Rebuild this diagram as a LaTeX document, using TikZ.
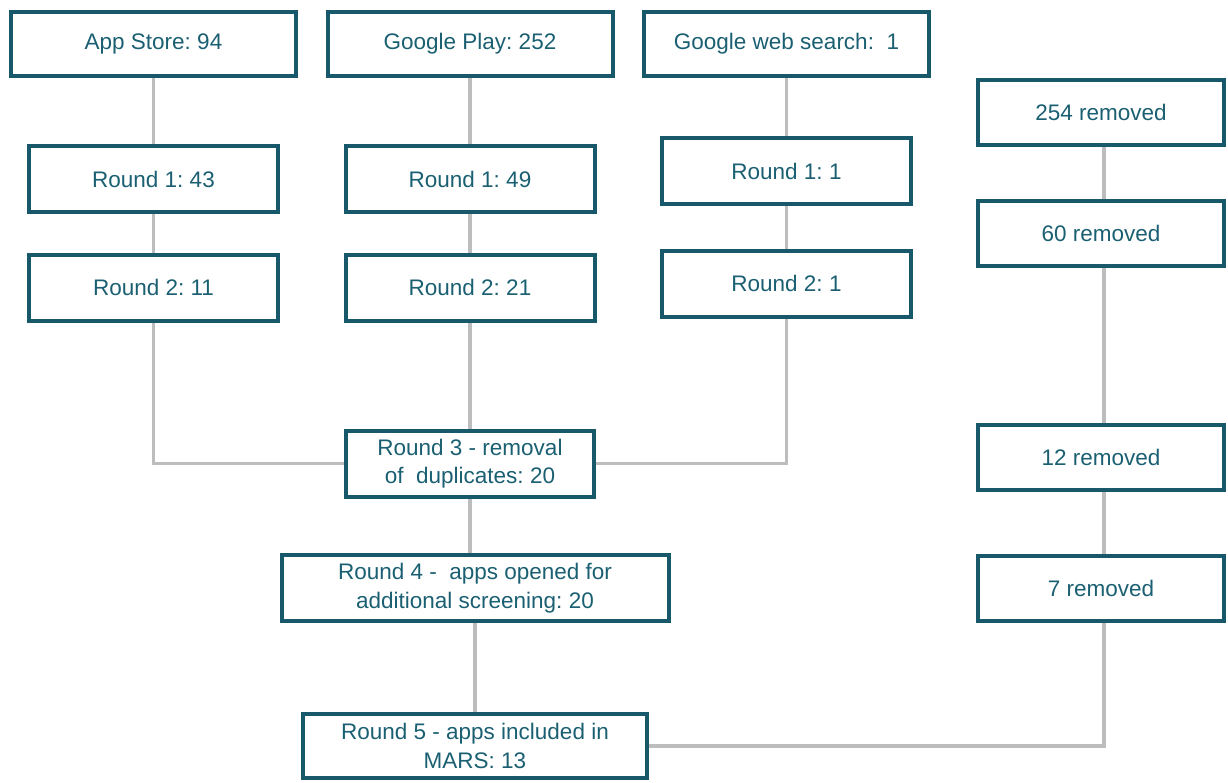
\documentclass[tikz,border=0pt]{standalone}
\usepackage{fontspec}
\setmainfont{Liberation Sans}
\usetikzlibrary{backgrounds}
\definecolor{teal}{HTML}{17586B}
\definecolor{tealtext}{HTML}{1B6072}
\definecolor{conn}{HTML}{BDBDBD}
\tikzset{
  box/.style={draw=teal, line width=4pt, fill=white, text=tealtext, align=center,
    inner sep=0pt, font=\fontsize{22.5}{28.5}\selectfont\frenchspacing},
  wbig/.style={minimum width=285pt, minimum height=64pt},
  wrnd/.style={minimum width=249pt, minimum height=66pt},
  wrm/.style={minimum width=246pt, minimum height=65pt},
  link/.style={draw=conn, line width=3.2pt}
}
\begin{document}
\begin{tikzpicture}[x=1pt,y=-1pt]
\useasboundingbox (0,0) rectangle (1228,782);
% top row
\node[box,wbig] (as) at (153.5,44) {App Store: 94};
\node[box,wbig] (gp) at (470,44) {Google Play: 252};
\node[box,wbig] (gw) at (786.5,44) {Google web search:\ \ 1};
% round 1
\node[box,wrnd] (a1) at (153.5,179) {Round 1: 43};
\node[box,wrnd] (g1) at (470,179) {Round 1: 49};
\node[box,wrnd] (w1) at (786.5,171) {Round 1: 1};
% round 2
\node[box,wrnd] (a2) at (153.5,287.5) {Round 2: 11};
\node[box,wrnd] (g2) at (470,287.5) {Round 2: 21};
\node[box,wrnd] (w2) at (786.5,283.5) {Round 2: 1};
% rounds 3-5
\node[box,minimum width=248pt,minimum height=66pt] (r3) at (470,463.5) {Round 3 - removal\\of\ \ duplicates: 20};
\node[box,minimum width=387pt,minimum height=66pt] (r4) at (475,588) {Round 4 -\ \ apps opened for\\additional screening: 20};
\node[box,minimum width=344pt,minimum height=64pt] (r5) at (475,746) {Round 5 - apps included in\\MARS: 13};
% removed column
\node[box,wrm] (m254) at (1101,112) {254 removed};
\node[box,wrm] (m60) at (1101,233.5) {60 removed};
\node[box,wrm] (m12) at (1101,457.5) {12 removed};
\node[box,wrm] (m7) at (1101,588) {7 removed};
\coordinate (m7b) at ([xshift=3pt]m7.south);
\coordinate (m254b) at ([xshift=3pt]m254.south);
\begin{scope}[on background layer]
\draw[link] (as) -- (a1);
\draw[link] (a1) -- (a2);
\draw[link] (a2.south) |- (r3.west);
\draw[link] (gp) -- (g1);
\draw[link] (g1) -- (g2);
\draw[link] (g2) -- (r3);
\draw[link] (gw) -- (w1);
\draw[link] (w1) -- (w2);
\draw[link] (w2.south) |- (r3.east);
\draw[link] (r3.south) -- (r3.south |- r4.north);
\draw[link] (r4) -- (r5);
\draw[link] (m254b) -- (m254b |- m60.north);
\draw[link] (m254b |- m60.south) -- (m254b |- m12.north);
\draw[link] (m254b |- m12.south) -- (m254b |- m7.north);
\draw[link] (m7b) |- (r5.east);
\end{scope}
\end{tikzpicture}
\end{document}
